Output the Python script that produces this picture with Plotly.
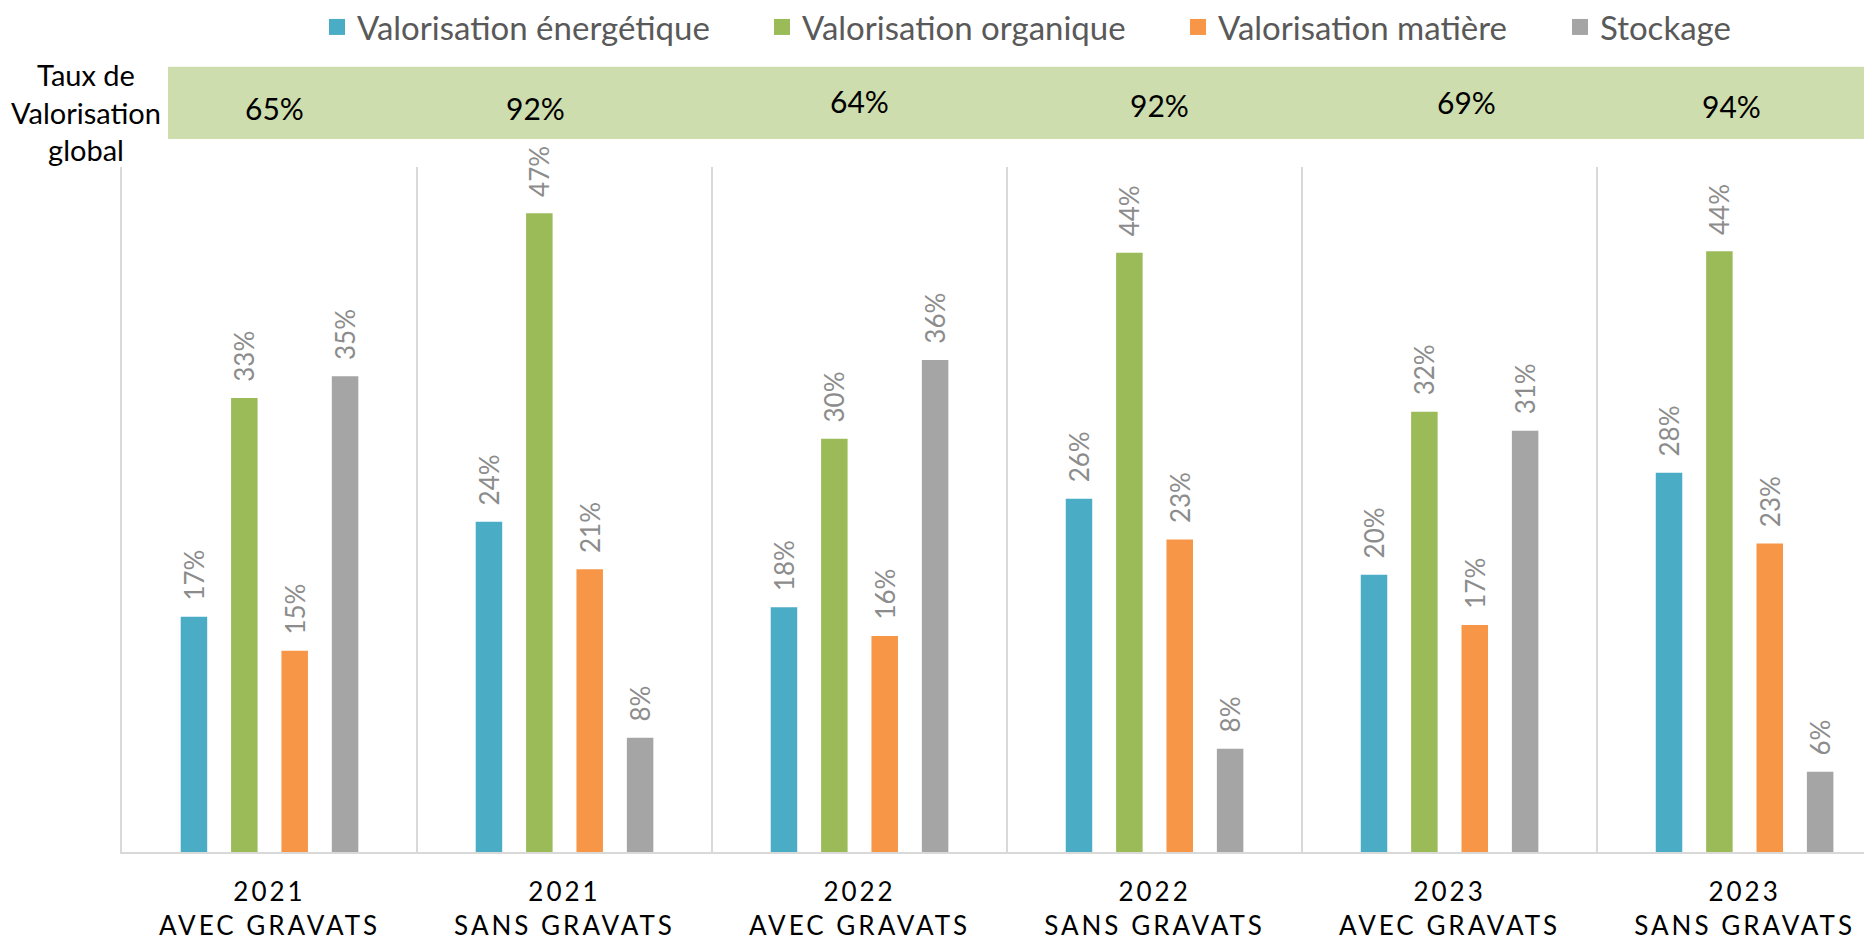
import plotly.graph_objects as go

# ----------------------------
# data
# ----------------------------
categories = ["2021<br>AVEC GRAVATS", "2021<br>SANS GRAVATS",
              "2022<br>AVEC GRAVATS", "2022<br>SANS GRAVATS",
              "2023<br>AVEC GRAVATS", "2023<br>SANS GRAVATS"]

energetique = [0.173, 0.243, 0.180, 0.260, 0.204, 0.279]
organique = [0.334, 0.470, 0.304, 0.441, 0.324, 0.442]
matiere = [0.148, 0.208, 0.159, 0.230, 0.167, 0.227]
stockage = [0.350, 0.084, 0.362, 0.076, 0.310, 0.059]

taux_global = ["65%", "92%", "64%", "92%", "69%", "94%"]

series = [
    ("Valorisation énergétique", energetique, "#4BACC6"),
    ("Valorisation organique", organique, "#9BBB59"),
    ("Valorisation matière", matiere, "#F79646"),
    ("Stockage", stockage, "#A5A5A5"),
]

FONT = "Lato"

# layout helpers (pixels -> paper)
ML, MT, MB, W, H = 114, 159, 94, 1872, 938
PW, PH = W - ML, H - MT - MB
def px(xp):
    return (xp - ML) / PW
def py(yp):
    return (H - MB - yp) / PH

legend_x = [309, 754, 1170, 1552]
banner_shift = [5, -29, 0, 5, 17, -13]
banner_y = [100, 100, 93, 97, 94, 98]

# letter-spaced tick labels (excel style)
def spaced(label):
    parts = label.split("<br>")
    return "<br>".join(f"<span style='letter-spacing:3px'>{p}</span>" for p in parts)

fig = go.Figure()
for i, (name, vals, color) in enumerate(series):
    lg = "legend" if i == 0 else f"legend{i + 1}"
    fig.add_trace(go.Bar(
        x=categories, y=vals, name=name, showlegend=False,
        marker=dict(color=color, line=dict(width=0)),
        texttemplate="\u00a0\u00a0%{y:.0%}", textposition="outside", textangle=-90,
        textfont=dict(family=FONT, size=26, color="#8C8C8C"),
        constraintext="none", cliponaxis=False,
    ))
    # legend entry with a bigger square swatch
    fig.add_trace(go.Scatter(
        x=[None], y=[None], mode="markers", name=name, legend=lg,
        marker=dict(symbol="square", size=20, color=color),
    ))

legend_style = dict(orientation="h", yanchor="middle", xanchor="left", y=py(19),
                    font=dict(family=FONT, size=33, color="#595959"),
                    itemclick=False, itemsizing="trace", bgcolor="rgba(0,0,0,0)")

# green banner with global rate
fig.add_shape(type="rect", xref="paper", yref="paper",
              x0=px(160), x1=1.0, y0=py(131), y1=py(58.7),
              fillcolor="#CEDDAE", line=dict(width=0), layer="below")
for cat, t, sh, yy in zip(categories, taux_global, banner_shift, banner_y):
    fig.add_annotation(x=cat, y=py(yy), xref="x", yref="paper", text=t,
                       xanchor="center", yanchor="middle", xshift=sh, showarrow=False,
                       font=dict(family=FONT, size=30, color="#000000"))

fig.add_annotation(x=px(78), y=py(104), xref="paper", yref="paper",
                   text="Taux de<br>Valorisation<br>global", showarrow=False,
                   xanchor="center", yanchor="middle",
                   font=dict(family=FONT, size=29, color="#000000"), align="center")

fig.update_layout(
    width=W, height=H,
    margin=dict(l=ML, r=0, t=MT, b=MB, autoexpand=False),
    paper_bgcolor="white", plot_bgcolor="white",
    barmode="group", bargap=0.317, bargroupgap=0.474,
    legend=dict(x=px(legend_x[0]), **legend_style),
    legend2=dict(x=px(legend_x[1]), **legend_style),
    legend3=dict(x=px(legend_x[2]), **legend_style),
    legend4=dict(x=px(legend_x[3]), **legend_style),
    font=dict(family=FONT),
)
fig.update_xaxes(
    type="category", tickson="boundaries",
    tickmode="array", tickvals=categories,
    ticktext=[spaced(c) for c in categories],
    range=[-0.5, 5.459], showgrid=True, gridcolor="#D9D9D9", gridwidth=2,
    showline=True, linecolor="#D9D9D9", linewidth=2, ticks="",
    tickfont=dict(family=FONT, size=26, color="#000000"), ticklabelstandoff=16,
    zeroline=False,
)
fig.update_yaxes(range=[0, 0.504], showgrid=False, showticklabels=False,
                 showline=True, linecolor="#D9D9D9", linewidth=2, zeroline=False)

fig.write_html("out.html")
